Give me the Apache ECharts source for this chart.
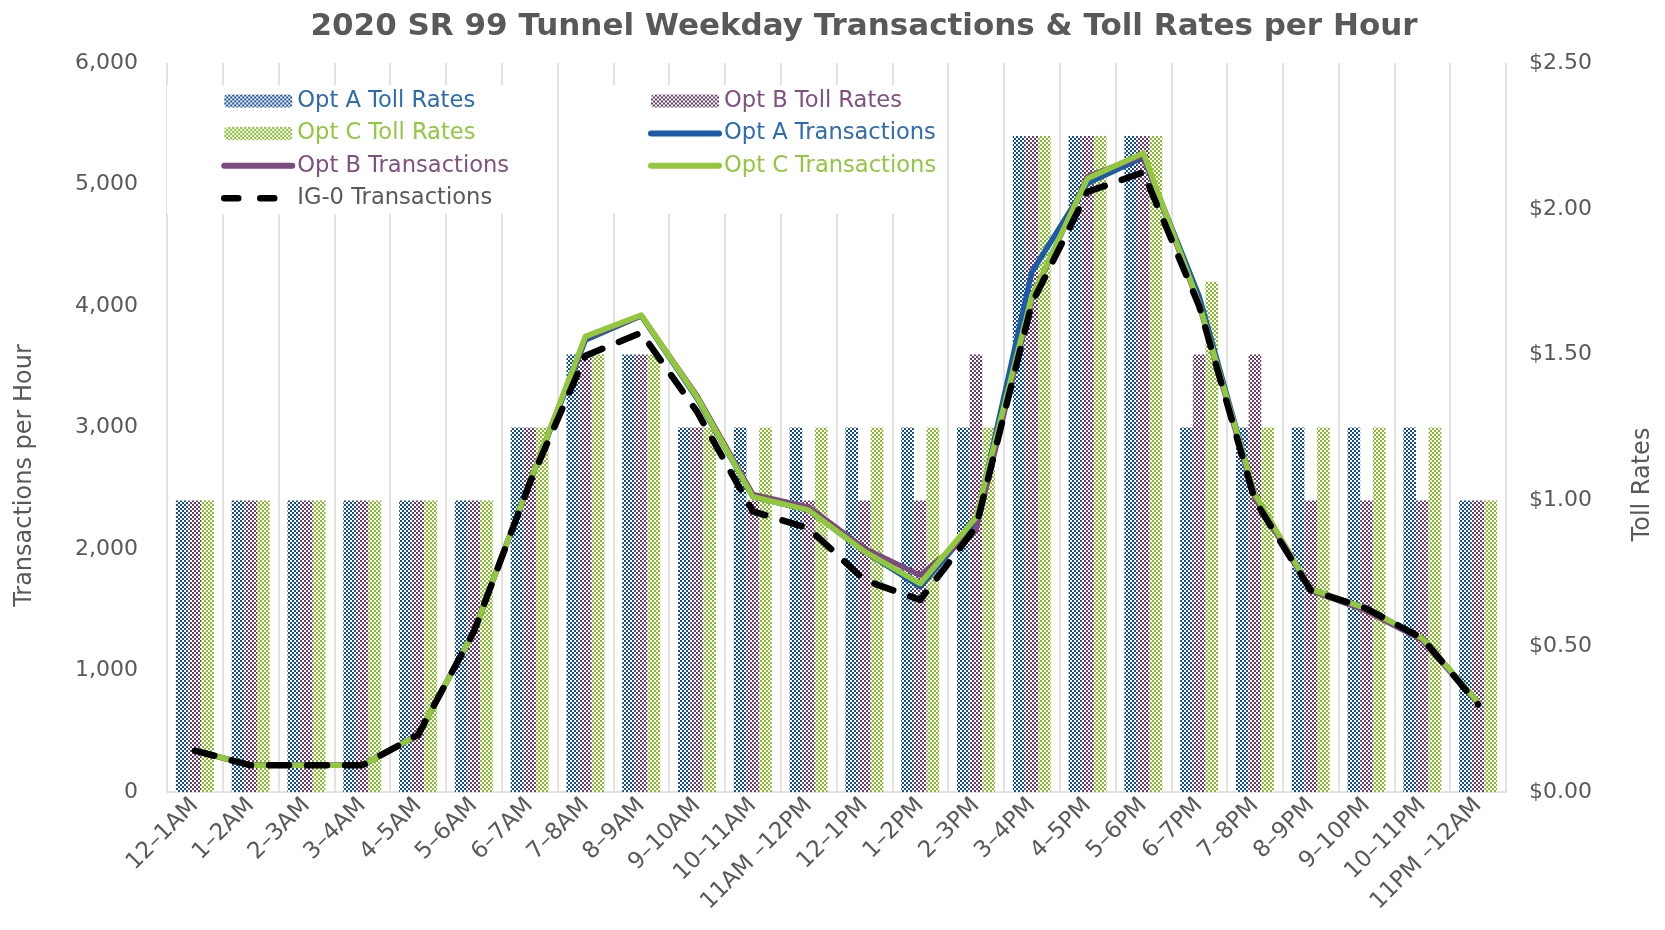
<!DOCTYPE html>
<html>
<head>
<meta charset="utf-8">
<script src="https://cdn.jsdelivr.net/npm/echarts@6/dist/echarts.min.js"></script>
<style>html,body{margin:0;padding:0;background:#fff;}#chart{width:1665px;height:930px;}</style>
</head>
<body>
<div id="chart"></div>
<script>
var categories = ['12–1AM','1–2AM','2–3AM','3–4AM','4–5AM','5–6AM','6–7AM','7–8AM','8–9AM','9–10AM','10–11AM','11AM –12PM','12–1PM','1–2PM','2–3PM','3–4PM','4–5PM','5–6PM','6–7PM','7–8PM','8–9PM','9–10PM','10–11PM','11PM –12AM'];

var optATollRates = [1.00,1.00,1.00,1.00,1.00,1.00,1.25,1.50,1.50,1.25,1.25,1.25,1.25,1.25,1.25,2.25,2.25,2.25,1.25,1.25,1.25,1.25,1.25,1.00];
var optBTollRates = [1.00,1.00,1.00,1.00,1.00,1.00,1.25,1.50,1.50,1.25,1.00,1.00,1.00,1.00,1.50,2.25,2.25,2.25,1.50,1.50,1.00,1.00,1.00,1.00];
var optCTollRates = [1.00,1.00,1.00,1.00,1.00,1.00,1.25,1.50,1.50,1.25,1.25,1.25,1.25,1.25,1.25,2.25,2.25,2.25,1.75,1.25,1.25,1.25,1.25,1.00];

var optATransactions = [340,220,220,220,470,1320,2550,3720,3920,3240,2430,2320,1980,1690,2220,4280,5010,5225,4080,2440,1670,1510,1260,740];
var optBTransactions = [340,220,220,220,470,1320,2550,3740,3920,3260,2450,2345,2005,1785,2160,4060,5065,5240,4010,2420,1660,1490,1250,730];
var optCTransactions = [340,220,220,220,470,1320,2550,3750,3925,3250,2430,2320,1980,1715,2260,4080,5050,5260,4020,2450,1670,1510,1265,740];
var ig0Transactions  = [340,220,220,220,470,1320,2540,3590,3780,3130,2310,2170,1745,1580,2180,4020,4940,5100,4000,2400,1660,1510,1265,720];

var leftTicks = {min: 0, max: 6000, interval: 1000};
var rightTicks = {min: 0, max: 2.5, interval: 0.5};

var BLUE = '#1C5AAA', PURPLE = '#7B4A7E', GREEN = '#92C83C', GREY = '#595959';
var BAR_BLUE = '#104C9C', BAR_PURPLE = '#6C3A70', BAR_GREEN = '#84BE2A';
var FONT = "'DejaVu Sans', 'Open Sans', sans-serif";

function checker(color) {
  var c = document.createElement('canvas');
  c.width = 4; c.height = 4;
  var ctx = c.getContext('2d');
  ctx.fillStyle = '#ffffff'; ctx.fillRect(0, 0, 4, 4);
  ctx.fillStyle = color;
  ctx.fillRect(0, 0, 2, 2);
  ctx.fillRect(2, 2, 2, 2);
  return {image: c, repeat: 'repeat'};
}

function barSeries(name, data, color) {
  return {
    name: name, type: 'bar', yAxisIndex: 1, data: data,
    barGap: '0%', barCategoryGap: '32%',
    itemStyle: {color: checker(color)}
  };
}
function lineSeries(name, data, color, dashed) {
  return {
    name: name, type: 'line', yAxisIndex: 0, data: data,
    symbol: 'none',
    lineStyle: dashed ? {color: color, width: 6.5, type: [20, 18], cap: 'round', join: 'round'}
                      : {color: color, width: 5.5, cap: 'round', join: 'round'},
    itemStyle: {color: color}
  };
}
function lineLegend(name, textColor, dashed) {
  return {
    name: name,
    itemStyle: {opacity: 0},
    lineStyle: dashed ? {width: 6.5, type: [14, 22], cap: 'round'} : {width: 6, cap: 'round'},
    textStyle: {color: textColor}
  };
}

var chart = echarts.init(document.getElementById('chart'), null, {renderer: 'canvas'});
chart.setOption({
  animation: false,
  backgroundColor: '#fff',
  title: {
    text: '2020 SR 99 Tunnel Weekday Transactions & Toll Rates per Hour',
    left: 859, top: 6, textAlign: 'center',
    textStyle: {fontFamily: FONT, fontSize: 31, fontWeight: 'bold', color: GREY}
  },
  grid: {left: 167, right: 159, top: 63, bottom: 138},
  legend: [
    {
      orient: 'vertical', left: 167, top: 85,
      padding: [4, 45, 4, 54],
      backgroundColor: '#fff',
      itemWidth: 68, itemHeight: 13, itemGap: 8.4,
      textStyle: {fontFamily: FONT, fontSize: 22.6, lineHeight: 24, color: GREY},
      data: [
        {name: 'Opt A Toll Rates', textStyle: {color: '#2E6BB5'}},
        {name: 'Opt C Toll Rates', textStyle: {color: '#92C83E'}},
        lineLegend('Opt B Transactions', '#80507F', false),
        lineLegend('IG-0 Transactions', GREY, true)
      ]
    },
    {
      orient: 'vertical', left: 585, top: 85,
      padding: [4, 8, 36, 63],
      backgroundColor: '#fff',
      itemWidth: 68, itemHeight: 13, itemGap: 8.4,
      textStyle: {fontFamily: FONT, fontSize: 22.6, lineHeight: 24, color: GREY},
      data: [
        {name: 'Opt B Toll Rates', textStyle: {color: '#80507F'}},
        lineLegend('Opt A Transactions', '#2E6BB5', false),
        lineLegend('Opt C Transactions', '#92C83E', false)
      ]
    }
  ],
  xAxis: {
    type: 'category', data: categories, boundaryGap: true,
    axisLine: {show: true, lineStyle: {color: '#D9D9D9', width: 1.5}},
    axisTick: {show: false},
    splitLine: {show: true, lineStyle: {color: '#D9D9D9', width: 1.5}},
    axisLabel: {rotate: 45, margin: 10, fontFamily: FONT, fontSize: 23, color: GREY, interval: 0}
  },
  yAxis: [
    {
      type: 'value', min: leftTicks.min, max: leftTicks.max, interval: leftTicks.interval,
      name: 'Transactions per Hour', nameLocation: 'middle', nameGap: 130,
      nameTextStyle: {fontFamily: FONT, fontSize: 24, color: GREY, padding: [0, 96, 0, 0]},
      axisLine: {show: false}, axisTick: {show: false}, splitLine: {show: false},
      axisLabel: {margin: 29, fontFamily: FONT, fontSize: 22, color: GREY,
        formatter: function (v) { return v.toLocaleString('en-US'); }}
    },
    {
      type: 'value', min: rightTicks.min, max: rightTicks.max, interval: rightTicks.interval,
      name: 'Toll Rates', nameLocation: 'middle', nameGap: 125,
      nameTextStyle: {fontFamily: FONT, fontSize: 24, color: GREY, padding: [0, 114, 0, 0]},
      axisLine: {show: false}, axisTick: {show: false}, splitLine: {show: false},
      axisLabel: {margin: 23, fontFamily: FONT, fontSize: 22, color: GREY,
        formatter: function (v) { return '$' + v.toFixed(2); }}
    }
  ],
  series: [
    barSeries('Opt A Toll Rates', optATollRates, BAR_BLUE),
    barSeries('Opt B Toll Rates', optBTollRates, BAR_PURPLE),
    barSeries('Opt C Toll Rates', optCTollRates, BAR_GREEN),
    lineSeries('Opt A Transactions', optATransactions, BLUE, false),
    lineSeries('Opt B Transactions', optBTransactions, PURPLE, false),
    lineSeries('Opt C Transactions', optCTransactions, GREEN, false),
    lineSeries('IG-0 Transactions', ig0Transactions, '#000000', true)
  ]
});
</script>
</body>
</html>
